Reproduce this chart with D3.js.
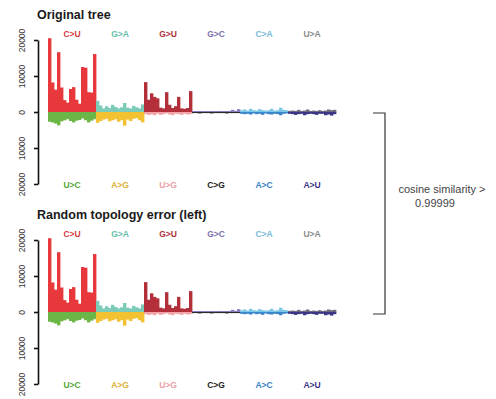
<!DOCTYPE html>
<html>
<head>
<meta charset="utf-8">
<script src="https://cdn.jsdelivr.net/npm/d3@7"></script>
<style>
  body { margin: 0; background: #fff; }
  svg { display: block; font-family: "Liberation Sans", Arial, sans-serif; }
</style>
</head>
<body>
<svg id="chart" width="496" height="399"></svg>
<script>
// mutation types drawn above and below zero
const topTypes = ["C>U", "G>A", "G>U", "G>C", "C>A", "U>A"];
const bottomTypes = ["U>C", "A>G", "U>G", "C>G", "A>C", "A>U"];

const topColors = ["#e8383c", "#7ccbb8", "#b3303a", "#8a7cc0", "#7cc6e6", "#6c6a80"];
const bottomColors = ["#6cb648", "#f2c232", "#f2a4a8", "#2a2a2a", "#3a86c8", "#3c3584"];
const topLabelColors = ["#d83a40", "#66c0aa", "#b0303a", "#7c70ae", "#76bcd8", "#8a8a8a"];
const bottomLabelColors = ["#5aa838", "#dcb23a", "#eaa0a6", "#222222", "#3a80c4", "#3c3584"];

// counts per context (16 contexts per mutation type)
const cU = [20500, 8200, 6200, 16600, 6800, 3300, 2600, 6400, 6900, 3400, 2300, 12500, 12300, 5500, 5400, 16100];
const gA = [3100, 1800, 1000, 1600, 1100, 2000, 1400, 1000, 1300, 2500, 1200, 1000, 1700, 1300, 1000, 2100];
const gU = [8300, 3400, 5200, 4200, 3800, 1200, 1000, 5500, 2000, 1100, 1600, 4200, 1000, 900, 1100, 5800];
const gC = [200, 200, 300, 200, 200, 300, 200, 200, 200, 300, 200, 200, 300, 600, 300, 800];
const cA = [500, 700, 400, 900, 500, 400, 800, 500, 400, 500, 900, 400, 500, 1200, 600, 500];
const uA = [300, 400, 300, 600, 300, 400, 700, 300, 400, 300, 500, 300, 400, 700, 500, 600];

const uC = [2700, 2900, 3200, 3700, 2600, 2300, 2000, 2500, 2900, 2400, 2200, 1800, 2300, 2900, 2400, 2000];
const aG = [3000, 2500, 2100, 1900, 2600, 2300, 2000, 2700, 2300, 3800, 2100, 2500, 1900, 1700, 2300, 2900];
const uG = [600, 800, 700, 900, 500, 800, 600, 400, 700, 900, 500, 600, 800, 500, 700, 600];
const cG = [300, 300, 400, 300, 300, 300, 400, 300, 300, 300, 300, 400, 300, 300, 300, 300];
const aC = [500, 600, 500, 700, 400, 600, 500, 800, 400, 600, 700, 500, 600, 900, 500, 400];
const aU = [500, 600, 800, 600, 500, 900, 600, 500, 600, 800, 500, 500, 900, 700, 1000, 600];

const topValues = [cU, gA, gU, gC, cA, uA];
const bottomValues = [uC, aG, uG, cG, aC, aU];

const tickValues = [-20000, -10000, 0, 10000, 20000];

const panels = [
    { title: "Original tree", offset: 0 },
    { title: "Random topology error (left)", offset: 200 }
];

const svg = d3.select("#chart");

// x scale over all 96 contexts
const indices = d3.range(96);
const xScale = d3.scaleBand()
    .domain(indices)
    .range([48, 336])
    .padding(0);

panels.forEach(function (p) {
    const g = svg.append("g").attr("transform", `translate(0, ${p.offset})`);

    const yScale = d3.scaleLinear()
        .domain([-20000, 20000])
        .range([184, 40]);

    // title
    g.append("text")
        .attr("x", 37)
        .attr("y", 18.5)
        .style("font-size", "12.5px")
        .style("font-weight", "bold")
        .style("fill", "#1a1a1a")
        .text(p.title);

    // y axis
    const axis = g.append("g")
        .attr("transform", "translate(38, 0)")
        .call(d3.axisLeft(yScale)
            .tickValues(tickValues)
            .tickSize(4)
            .tickSizeOuter(0)
            .tickFormat(d => Math.abs(d)));
    axis.select(".domain").attr("stroke", "#111").attr("stroke-width", 1.6);
    axis.selectAll(".tick line").attr("stroke", "#111").attr("stroke-width", 1.6);
    axis.selectAll(".tick text")
        .attr("x", null).attr("dy", null)
        .attr("transform", "translate(-13, 0) rotate(-90)")
        .attr("text-anchor", "middle")
        .style("font-size", "8.5px")
        .style("font-family", "'Liberation Sans', Arial, sans-serif")
        .style("fill", "#333");

    // bars
    topTypes.forEach(function (t, gi) {
        const up = topValues[gi];
        const down = bottomValues[gi];
        const bw = xScale.bandwidth();

        g.selectAll(null)
            .data(down)
            .enter().append("rect")
            .attr("x", (d, j) => xScale(gi * 16 + j))
            .attr("width", bw + 0.4)
            .attr("y", yScale(0))
            .attr("height", d => Math.max(1, yScale(-d) - yScale(0)))
            .attr("fill", bottomColors[gi]);

        g.selectAll(null)
            .data(up)
            .enter().append("rect")
            .attr("x", (d, j) => xScale(gi * 16 + j))
            .attr("width", bw + 0.4)
            .attr("y", d => Math.min(yScale(d), yScale(0) - 1))
            .attr("height", d => Math.max(1, yScale(0) - yScale(d)))
            .attr("fill", topColors[gi]);

        const cx = xScale(gi * 16) + bw * 8;

        g.append("text")
            .attr("x", cx)
            .attr("y", 37)
            .attr("text-anchor", "middle")
            .style("font-size", "8.5px")
            .style("font-weight", "bold")
            .style("fill", topLabelColors[gi])
            .text(t);

        g.append("text")
            .attr("x", cx)
            .attr("y", 188)
            .attr("text-anchor", "middle")
            .style("font-size", "8.5px")
            .style("font-weight", "bold")
            .style("fill", bottomLabelColors[gi])
            .text(bottomTypes[gi]);
    });
});

// bracket linking the two panels
svg.append("path")
    .attr("d", "M373,113H385V314H373")
    .attr("fill", "none")
    .attr("stroke", "#333")
    .attr("stroke-width", 1.2);

svg.append("text")
    .attr("x", 442)
    .attr("y", 193)
    .attr("text-anchor", "middle")
    .style("font-size", "11px")
    .style("fill", "#444")
    .text("cosine similarity >");

svg.append("text")
    .attr("x", 435)
    .attr("y", 207)
    .attr("text-anchor", "middle")
    .style("font-size", "11px")
    .style("fill", "#444")
    .text("0.99999");
</script>
</body>
</html>
